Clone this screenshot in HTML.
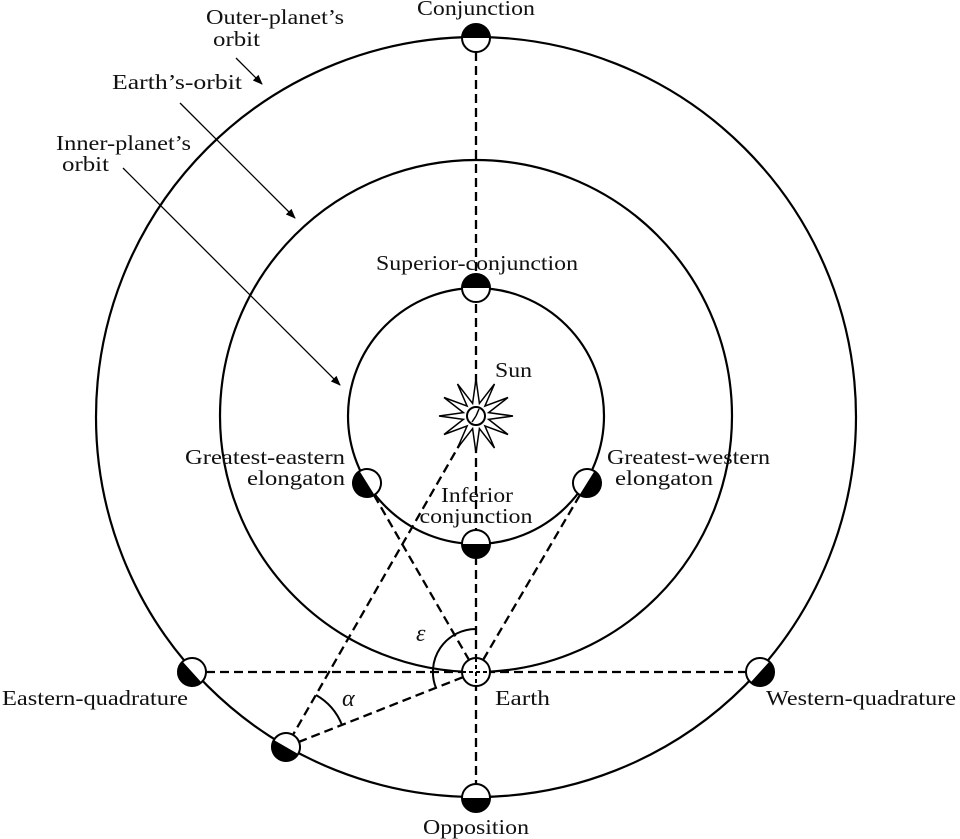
<!DOCTYPE html>
<html><head><meta charset="utf-8"><style>
html,body{margin:0;padding:0;background:#fff;}
svg{display:block;}
text{font-family:"Liberation Serif",serif;font-size:21px;fill:#111;}
</style></head><body>
<svg width="960" height="839" viewBox="0 0 960 839" xmlns="http://www.w3.org/2000/svg">
<defs>
<marker id="ah" markerWidth="10" markerHeight="8" refX="9" refY="4" orient="auto" markerUnits="userSpaceOnUse">
<path d="M0,0 L10,4 L0,8 Z" fill="#000"/></marker>
<g id="pl"><circle r="14" fill="#fff" stroke="#000" stroke-width="2"/><path d="M0,-14 A14,14 0 0 1 0,14 Z" fill="#000"/></g>
</defs>
<g fill="none" stroke="#000" stroke-width="2.2">
<circle cx="476" cy="416" r="128"/>
<circle cx="476" cy="416" r="256"/>
<circle cx="476" cy="417" r="380"/>
</g>
<g fill="none" stroke="#000" stroke-width="2.3" stroke-dasharray="9,5">
<line x1="476" y1="38" x2="476" y2="798"/>
<line x1="192" y1="672" x2="760" y2="672"/>
<line x1="367" y1="483" x2="476" y2="672"/>
<line x1="587" y1="483" x2="476" y2="672"/>
<line x1="476" y1="416" x2="286" y2="747"/>
<line x1="476" y1="672" x2="286" y2="747"/>
</g>
<g fill="none" stroke="#000" stroke-width="2">
<path d="M476,629 A43,43 0 0 0 436,688"/>
<path d="M316,695 A60,60 0 0 1 342,725"/>
</g>
<g stroke="#000" stroke-width="1.3" fill="none" marker-end="url(#ah)">
<line x1="236" y1="58" x2="262" y2="84"/>
<line x1="180" y1="103" x2="295" y2="218"/>
<line x1="123" y1="168" x2="340" y2="385"/>
</g>
<polygon fill="#fff" stroke="#000" stroke-width="1.5" points="
513,416 488.6,419.4 508,434.5 484.9,425.9 494.5,448 479.4,428.6 476,453 472.6,428.6 457.5,448 467.1,425.9 444,434.5 463.4,419.4 439,416 463.4,412.6 444,397.5 467.1,406.1 457.5,384 472.6,403.4 476,379 479.4,403.4 494.5,384 484.9,406.1 508,397.5 488.6,412.6"/>
<circle cx="476" cy="416" r="9" fill="#fff" stroke="#000" stroke-width="2"/>
<line x1="476" y1="416" x2="479" y2="409" stroke="#000" stroke-width="1.5"/>
<line x1="476" y1="416" x2="472" y2="422" stroke="#000" stroke-width="1.5"/>
<use href="#pl" transform="translate(476,38) rotate(-90)"/>
<use href="#pl" transform="translate(476,288) rotate(-90)"/>
<use href="#pl" transform="translate(476,544) rotate(90)"/>
<use href="#pl" transform="translate(476,798) rotate(90)"/>
<use href="#pl" transform="translate(367,483) rotate(148)"/>
<use href="#pl" transform="translate(587,483) rotate(32)"/>
<use href="#pl" transform="translate(192,672) rotate(138)"/>
<use href="#pl" transform="translate(760,672) rotate(42)"/>
<use href="#pl" transform="translate(286,747) rotate(120)"/>
<circle cx="476" cy="672" r="14" fill="#fff" stroke="#000" stroke-width="2"/>
<g stroke="#000" stroke-width="2" stroke-dasharray="4,3">
<line x1="476" y1="658" x2="476" y2="686"/>
<line x1="462" y1="672" x2="490" y2="672"/>
</g>
<text x="206" y="24" textLength="138" lengthAdjust="spacingAndGlyphs">Outer-planet’s</text>
<text x="213" y="46" textLength="47" lengthAdjust="spacingAndGlyphs">orbit</text>
<text x="112" y="89" textLength="130" lengthAdjust="spacingAndGlyphs">Earth’s-orbit</text>
<text x="56" y="150" textLength="135" lengthAdjust="spacingAndGlyphs">Inner-planet’s</text>
<text x="62" y="171" textLength="47" lengthAdjust="spacingAndGlyphs">orbit</text>
<text x="476" y="15" text-anchor="middle" textLength="118" lengthAdjust="spacingAndGlyphs">Conjunction</text>
<text x="477" y="270" text-anchor="middle" textLength="202" lengthAdjust="spacingAndGlyphs">Superior-conjunction</text>
<text x="495" y="377" textLength="37" lengthAdjust="spacingAndGlyphs">Sun</text>
<text x="345" y="464" text-anchor="end" textLength="160" lengthAdjust="spacingAndGlyphs">Greatest-eastern</text>
<text x="345" y="485" text-anchor="end" textLength="98" lengthAdjust="spacingAndGlyphs">elongaton</text>
<text x="607" y="464" textLength="163" lengthAdjust="spacingAndGlyphs">Greatest-western</text>
<text x="615" y="485" textLength="98" lengthAdjust="spacingAndGlyphs">elongaton</text>
<text x="477" y="502" text-anchor="middle" textLength="72" lengthAdjust="spacingAndGlyphs">Inferior</text>
<text x="476" y="523" text-anchor="middle" textLength="113" lengthAdjust="spacingAndGlyphs">conjunction</text>
<text x="2" y="705" textLength="186" lengthAdjust="spacingAndGlyphs">Eastern-quadrature</text>
<text x="495" y="705" textLength="55" lengthAdjust="spacingAndGlyphs">Earth</text>
<text x="766" y="705" textLength="190" lengthAdjust="spacingAndGlyphs">Western-quadrature</text>
<text x="476" y="834" text-anchor="middle" textLength="106" lengthAdjust="spacingAndGlyphs">Opposition</text>
<text x="416" y="641" style="font-style:italic;font-size:24px">ε</text>
<text x="342" y="706" style="font-style:italic;font-size:24px">α</text>
</svg>
</body></html>
